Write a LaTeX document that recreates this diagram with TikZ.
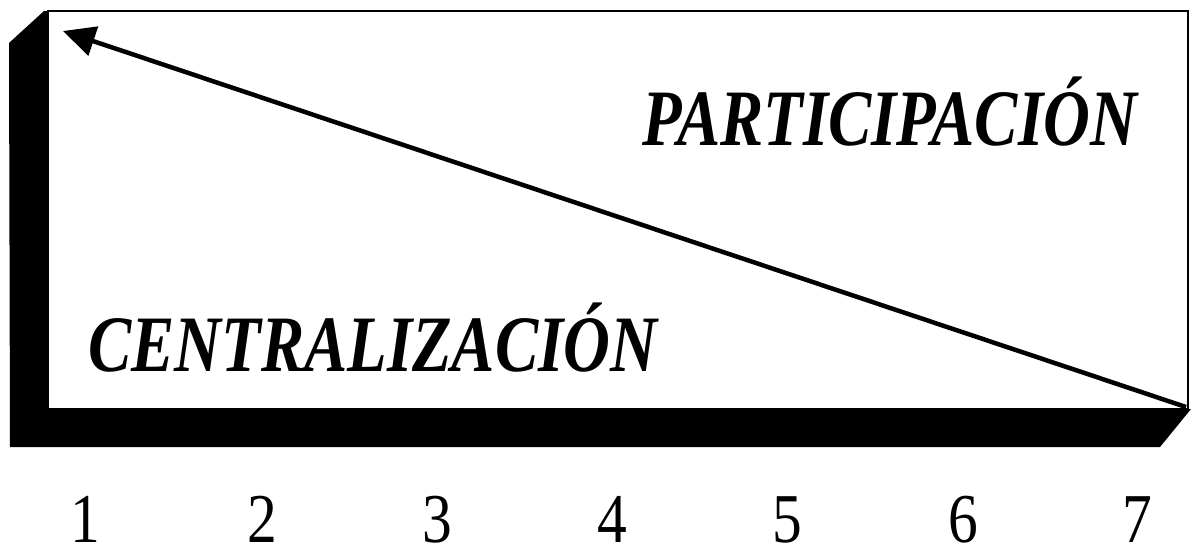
\documentclass[tikz,border=0pt]{standalone}
\usepackage{fontspec}
\setmainfont{Liberation Serif}
\usetikzlibrary{arrows.meta}
\begin{document}
\begin{tikzpicture}[x=1pt,y=-1pt,
  shadowfill/.style={fill=black,draw=none},
  frontbox/.style={draw=black,line width=2pt,fill=white},
  bigarrow/.style={line width=4.5pt,-{Triangle[length=32pt,width=30pt]}},
  biglabel/.style={inner sep=0pt,font=\fontsize{80}{96}\selectfont\bfseries\itshape},
  numlabel/.style={inner sep=0pt,anchor=base,font=\fontsize{70}{84}\selectfont}]
\useasboundingbox (0,0) rectangle (1193,549);
% shadow
\fill[shadowfill] (9,43) -- (44,11) -- (48,11) -- (48,409) -- (1191,409) -- (1160,447) -- (10,447) -- cycle;
% front face
\draw[frontbox] (48,11) rectangle (1188,409);
\fill[black] (46,11) rectangle (49,409);
% arrow
\coordinate (tail) at (1186,407);
\coordinate (tip) at (63,31);
\draw[bigarrow] (tail) -- (tip);
% labels
\node[biglabel,anchor=base east] (part) at (1137,145) {\scalebox{0.81}[1]{PARTICIPACIÓN}};
\node[biglabel,anchor=base west] (cent) at (88,371) {\scalebox{0.81}[1]{CENTRALIZACIÓN}};
% numbers
\node[numlabel] (n1) at (85,542) {\scalebox{0.85}[1]{1}};
\node[numlabel] (n2) at (262,542) {\scalebox{0.85}[1]{2}};
\node[numlabel] (n3) at (437,542) {\scalebox{0.85}[1]{3}};
\node[numlabel] (n4) at (612,542) {\scalebox{0.85}[1]{4}};
\node[numlabel] (n5) at (787,542) {\scalebox{0.85}[1]{5}};
\node[numlabel] (n6) at (963,542) {\scalebox{0.85}[1]{6}};
\node[numlabel] (n7) at (1137,542) {\scalebox{0.85}[1]{7}};
\end{tikzpicture}
\end{document}
